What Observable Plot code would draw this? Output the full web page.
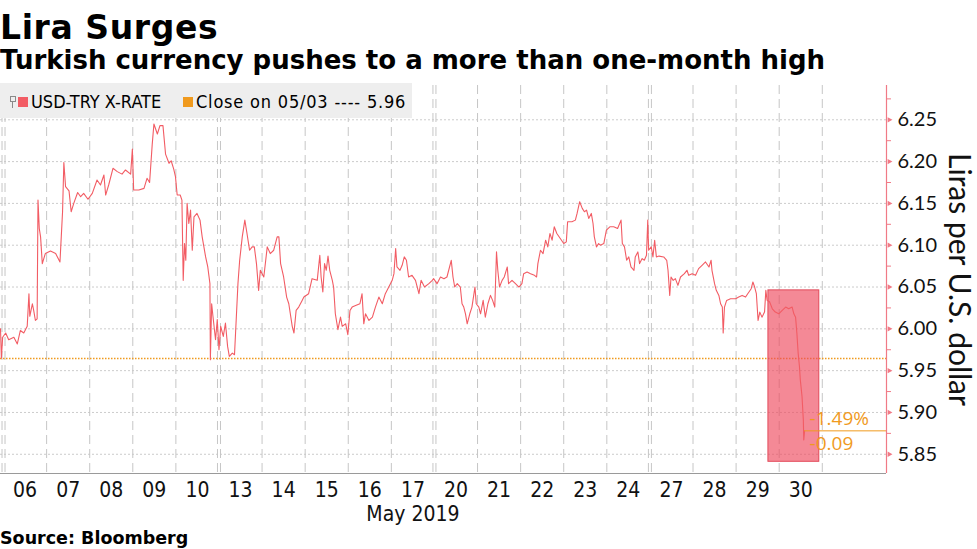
<!DOCTYPE html>
<html><head><meta charset="utf-8">
<script src="https://cdn.jsdelivr.net/npm/d3@7"></script>
<script src="https://cdn.jsdelivr.net/npm/@observablehq/plot@0.6"></script>
<style>
body{margin:0;width:977px;height:549px;position:relative;overflow:hidden;background:#fff;font-family:"DejaVu Sans",sans-serif;color:#000;}
.abs{position:absolute;white-space:nowrap;line-height:1;}
#title{left:0;top:11px;font-size:33px;font-weight:bold;letter-spacing:0.6px;}
#subtitle{left:0;top:47px;font-size:26px;font-weight:bold;}
#chart{left:0;top:80px;}
#legend{left:0;top:83px;width:412px;height:35px;background:#eeeeee;font-family:"DejaVu Sans Condensed","DejaVu Sans",sans-serif;font-stretch:condensed;font-size:18px;}
#legend .sw{position:absolute;width:10px;height:10px;top:14px;}
#legend .tx{position:absolute;top:10px;white-space:nowrap;line-height:1;}
#pin{position:absolute;left:10px;top:13px;width:4px;height:4px;border:1px solid #8a8a8a;}
#pinstem{position:absolute;left:12px;top:19px;width:1px;height:6px;background:#8a8a8a;}
#source{left:0;top:530px;font-size:17.5px;font-weight:bold;}
</style></head><body>
<div id="title" class="abs"></div>
<div id="subtitle" class="abs"></div>
<div id="chart" class="abs"></div>
<div id="legend" class="abs">
  <div id="pin"></div><div id="pinstem"></div>
  <div class="sw" id="sw1" style="left:18px"></div><div class="tx" id="lg1" style="left:31px"></div>
  <div class="sw" id="sw2" style="left:183px"></div><div class="tx" id="lg2" style="left:196px;letter-spacing:0.8px"></div>
</div>
<div id="source" class="abs"></div>
<script>
// ---- text ----
const titleText = "Lira Surges";
const subtitleText = "Turkish currency pushes to a more than one-month high";
const sourceText = "Source: Bloomberg";
const seriesName = "USD-TRY X-RATE";
const closeLabel = "Close on 05/03 ---- 5.96";
const yTitle = "Liras per U.S. dollar";
const monthLabel = "May 2019";
const pctLabel = "-1.49%";
const chgLabel = "-0.09";

// ---- categories (trading days) ----
const dayLabels = ["06","07","08","09","10","13","14","15","16","17","20","21","22","23","24","27","28","29","30"];
const mondays = [0, 5, 10, 15];

// ---- axis ticks ----
const yTicks = [5.85, 5.90, 5.95, 6.00, 6.05, 6.10, 6.15, 6.20, 6.25];
const yMinorTicks = [5.875, 5.925, 5.975, 6.025, 6.075, 6.125, 6.175, 6.225, 6.275];

// ---- series: position in trading days since 06 May open, USD-TRY rate ----
const tIdx = [
-0.07,-0.05,-0.02,0.05,0.12,0.24,0.32,0.39,0.47,0.55,0.59,0.61,0.67,0.70,0.74,0.78,0.80,0.83,0.86,0.90,0.97,
1.09,1.21,1.31,1.34,1.37,1.40,1.44,1.52,1.57,1.63,1.72,1.79,1.86,1.96,
2.06,2.17,2.25,2.33,2.37,2.44,2.54,2.64,2.75,2.83,2.95,2.99,
3.02,3.14,3.26,3.33,3.39,3.45,3.49,3.57,3.63,3.70,3.76,3.84,3.89,3.95,3.99,
4.03,4.10,4.14,4.17,4.20,4.23,4.26,4.30,4.34,4.38,4.42,4.49,4.56,4.61,4.69,4.74,4.79,4.80,4.83,4.86,4.92,4.96,
5.00,5.04,5.10,5.15,5.20,5.24,5.31,5.36,5.41,5.44,5.48,5.54,5.60,5.65,5.71,5.77,5.82,5.87,5.92,5.96,
6.04,6.12,6.19,6.27,6.35,6.39,6.43,6.50,6.57,6.62,6.70,6.74,6.79,6.85,6.93,6.97,
7.08,7.16,7.28,7.34,7.37,7.41,7.45,7.49,7.53,7.57,7.63,7.66,7.70,7.76,7.82,7.86,7.94,7.99,
8.04,8.09,8.17,8.27,8.32,8.36,8.40,8.48,8.56,8.63,8.71,8.79,8.86,8.94,
9.02,9.06,9.10,9.13,9.20,9.25,9.30,9.35,9.40,9.48,9.56,9.64,9.69,9.77,9.87,9.95,9.98,
10.06,10.14,10.22,10.29,10.39,10.43,10.47,10.53,10.60,10.64,10.68,10.72,10.76,10.82,10.87,10.94,10.97,
11.03,11.07,11.13,11.18,11.24,11.30,11.35,11.40,11.44,11.47,11.51,11.57,11.62,11.69,11.72,11.80,11.88,11.96,
12.03,12.07,12.15,12.23,12.32,12.37,12.40,12.46,12.52,12.58,12.63,12.68,12.73,12.78,12.84,12.92,
13.00,13.06,13.09,13.19,13.27,13.31,13.37,13.43,13.48,13.53,13.58,13.64,13.68,13.71,13.76,13.81,13.85,13.93,13.99,
14.07,14.16,14.25,14.33,14.36,14.41,14.46,14.51,14.56,14.63,14.66,14.72,14.76,14.82,14.87,14.92,14.95,14.97,
15.03,15.07,15.11,15.15,15.21,15.32,15.39,15.42,15.46,15.49,15.54,15.59,15.65,15.71,15.80,15.86,15.90,15.98,
16.06,16.13,16.21,16.29,16.37,16.42,16.44,16.50,16.54,16.60,16.64,16.68,16.70,16.73,16.78,16.87,16.99,
17.06,17.14,17.22,17.27,17.35,17.39,17.43,17.47,17.51,17.55,17.60,17.66,17.69,17.72,17.78,17.84,17.91,17.99,
18.07,18.15,18.22,18.30,18.34,18.38,18.41,18.44,18.47,18.49,18.53,18.56,18.57,18.59
];
const rate = [
6.000,5.965,5.990,5.995,5.987,5.990,5.982,5.998,5.995,6.003,6.042,6.015,6.030,6.022,6.010,6.012,6.154,6.120,6.110,6.078,6.090,
6.093,6.090,6.080,6.110,6.140,6.199,6.170,6.165,6.140,6.150,6.163,6.158,6.162,6.155,
6.162,6.178,6.172,6.184,6.160,6.172,6.192,6.188,6.185,6.190,6.185,6.215,
6.166,6.166,6.168,6.180,6.175,6.220,6.245,6.233,6.243,6.243,6.209,6.198,6.201,6.191,6.182,
6.160,6.160,6.154,6.058,6.102,6.082,6.150,6.126,6.142,6.094,6.134,6.138,6.130,6.110,6.086,6.074,6.054,5.963,6.030,6.015,5.987,6.011,
5.975,6.003,5.991,6.007,5.979,5.967,5.971,5.969,6.022,6.054,6.082,6.110,6.130,6.114,6.094,6.098,6.098,6.078,6.046,6.070,
6.062,6.098,6.090,6.094,6.110,6.110,6.078,6.062,6.038,6.030,6.003,5.995,6.022,6.026,6.034,6.038,
6.042,6.060,6.058,6.088,6.062,6.044,6.078,6.070,6.087,6.070,6.058,6.050,6.018,5.999,6.014,6.003,6.006,5.993,
6.022,6.026,6.028,6.030,6.042,6.006,6.018,6.010,6.014,6.026,6.038,6.030,6.042,6.050,
6.058,6.066,6.096,6.074,6.070,6.076,6.086,6.082,6.062,6.064,6.058,6.042,6.058,6.050,6.054,6.058,6.060,
6.054,6.062,6.060,6.062,6.082,6.062,6.050,6.054,6.050,6.030,6.026,6.018,6.006,6.018,6.026,6.050,6.030,
6.026,6.018,6.034,6.014,6.030,6.040,6.034,6.026,6.092,6.070,6.050,6.058,6.062,6.074,6.054,6.058,6.054,6.050,
6.054,6.066,6.068,6.066,6.064,6.062,6.078,6.094,6.090,6.106,6.098,6.114,6.106,6.122,6.114,6.108,
6.102,6.104,6.128,6.128,6.130,6.138,6.152,6.144,6.140,6.142,6.132,6.138,6.126,6.110,6.098,6.102,6.100,6.102,6.118,
6.122,6.122,6.120,6.130,6.102,6.098,6.082,6.086,6.074,6.070,6.086,6.092,6.078,6.084,6.082,6.088,6.130,6.094,
6.098,6.086,6.106,6.086,6.087,6.086,6.082,6.070,6.040,6.062,6.058,6.060,6.052,6.062,6.066,6.070,6.064,6.066,
6.064,6.072,6.076,6.080,6.074,6.082,6.070,6.054,6.046,6.040,6.030,6.026,5.995,6.026,6.034,6.036,6.036,
6.038,6.040,6.038,6.042,6.048,6.056,6.050,6.042,6.010,6.020,6.014,6.020,6.046,6.034,6.032,6.024,6.020,6.018,
6.022,6.026,6.024,6.026,6.018,6.014,5.995,5.971,5.955,5.939,5.919,5.891,5.867,5.878
];

// ---- reference values ----
const closeValue = 5.9645;          // close on 05/03
const highlightT = [17.75, 18.93];  // highlighted span (trading days)
const highlightV = [5.841, 6.046];  // highlighted span (rate)

// ---- colours ----
const red = "#f25c64", orange = "#f09a1e", pink = "#f07a86";

document.getElementById("title").textContent = titleText;
document.getElementById("subtitle").textContent = subtitleText;
document.getElementById("source").textContent = sourceText;
document.getElementById("lg1").textContent = seriesName;
document.getElementById("lg2").textContent = closeLabel;
document.getElementById("sw1").style.background = red;
document.getElementById("sw2").style.background = orange;

const data = tIdx.map((t, i) => ({t, v: rate[i]}));
const last = data[data.length - 1];
const xMin = -0.07, xMax = 20.49, yMin = 5.827, yMax = 6.291;
const centers = dayLabels.map((d, i) => i + 0.5);
const bounds = d3.range(dayLabels.length + 1);
const plainBounds = bounds.filter(b => !mondays.includes(b));
const triRight = {draw(ctx, size){ const s = Math.sqrt(size)/2; ctx.moveTo(-s*0.7,-s); ctx.lineTo(s*1.1,0); ctx.lineTo(-s*0.7,s); ctx.closePath(); }};
const narrow = "'Liberation Sans Narrow', 'DejaVu Sans Condensed', sans-serif";
const annFont = "'Open Sans', Lato, sans-serif";

const chart = Plot.plot({
  width: 977, height: 447,
  marginTop: 5, marginBottom: 54, marginLeft: 0, marginRight: 91,
  x: {domain: [xMin, xMax], axis: null},
  y: {domain: [yMin, yMax], axis: null},
  style: {background: "transparent", overflow: "visible", fontFamily: "Lato, sans-serif"},
  marks: [
    Plot.ruleY(yTicks, {stroke: "#cccccc", strokeDasharray: "2,2"}),
    Plot.ruleX(plainBounds, {stroke: "#c6c6c6", strokeDasharray: "9,5"}),
    Plot.ruleX(mondays, {stroke: "#c6c6c6", strokeDasharray: "9,5", dx: -1.5}),
    Plot.ruleX(mondays, {stroke: "#c6c6c6", strokeDasharray: "9,5", dx: 1.5}),
    Plot.ruleY([closeValue], {stroke: orange, strokeDasharray: "1.5,1.5", strokeWidth: 1.5}),
    Plot.rect([0], {x1: () => highlightT[0], x2: () => highlightT[1], y1: () => highlightV[0], y2: () => highlightV[1],
      fill: "#ee4a5e", fillOpacity: 0.65, stroke: "#e24a5a", strokeWidth: 1}),
    Plot.line(data, {x: "t", y: "v", stroke: red, strokeWidth: 1.1}),
    Plot.ruleY([last], {y: "v", x1: "t", x2: () => xMax, stroke: orange, strokeWidth: 1}),
    Plot.text([last], {x: "t", y: "v", text: () => pctLabel, dx: 5, dy: -12, textAnchor: "start", lineAnchor: "middle", fill: orange, fontSize: 19, fontFamily: annFont}),
    Plot.text([last], {x: "t", y: "v", text: () => chgLabel, dx: 5, dy: 13, textAnchor: "start", lineAnchor: "middle", fill: orange, fontSize: 19, fontFamily: annFont}),
    Plot.ruleY([yMin], {stroke: "#9a9a9a"}),
    Plot.ruleX([xMax], {stroke: pink, strokeWidth: 1.2}),
    Plot.ruleY(yMinorTicks, {y: d => d, x1: () => xMax, x2: () => xMax + 5/43.1, stroke: pink}),
    Plot.dot(yTicks, {x: () => xMax, y: d => d, symbol: triRight, r: 3, fill: pink, stroke: "none", dx: 3}),
    Plot.text(yTicks, {y: d => d, frameAnchor: "right", text: d => d.toFixed(2), textAnchor: "start", lineAnchor: "middle", dx: 11, fontSize: 20, fontFamily: "Lato", fill: "#111"}),
    Plot.text(centers, {x: d => d, frameAnchor: "bottom", text: (d, i) => dayLabels[i], textAnchor: "middle", lineAnchor: "middle", dy: 17, fontSize: 21, fontFamily: narrow, fill: "#111"}),
    Plot.text([monthLabel], {x: () => dayLabels.length / 2, frameAnchor: "bottom", text: d => d, textAnchor: "middle", lineAnchor: "middle", dy: 41, fontSize: 21, fontFamily: narrow, fill: "#111"}),
    Plot.text([yTitle], {frameAnchor: "right", text: d => d, textAnchor: "middle", lineAnchor: "middle", dx: 72, rotate: 90, fontSize: 30, fontFamily: "Lato", fill: "#111"})
  ]
});
document.getElementById("chart").appendChild(chart);
</script>
</body></html>
